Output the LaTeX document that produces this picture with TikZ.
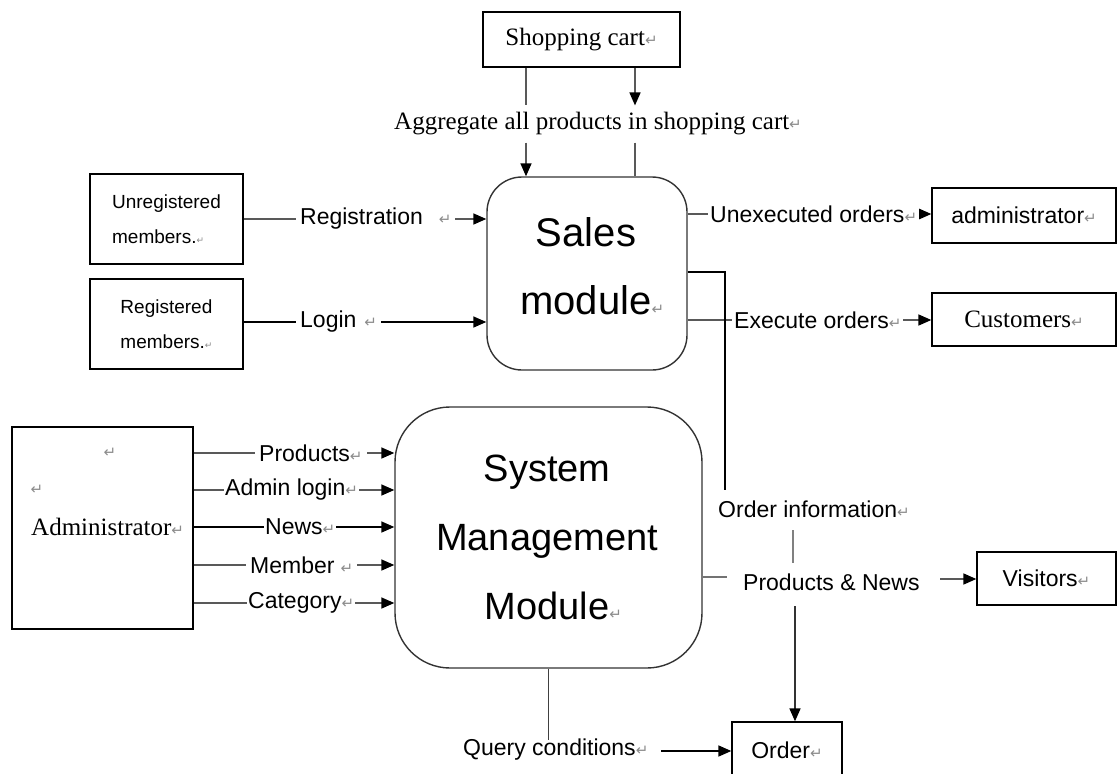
\documentclass[tikz,border=0pt]{standalone}
\usepackage{fontspec}
\setmainfont{Liberation Serif}
\setsansfont{Liberation Sans}
\newfontfamily\symfont{DejaVu Sans}
\usetikzlibrary{arrows.meta}
\newcommand\pmark{{\symfont\fontsize{15}{15}\selectfont\color{black!45}↵}}
\newcommand\pmarks{{\symfont\fontsize{9}{9}\selectfont\color{black!45}↵}}
\newcommand\fserif{\rmfamily\fontsize{25}{30}\selectfont}
\newcommand\fsans{\sffamily\fontsize{23}{27}\selectfont}
\newcommand\fsmall{\sffamily\fontsize{19}{35}\selectfont}
\begin{document}
\begin{tikzpicture}[x=1pt,y=-1pt,
  box/.style={draw=black, line width=1.3pt, inner sep=0pt},
  rbox/.style={draw=black!80, line width=1.4pt},
  conn/.style={draw=black!65, line width=1.6pt},
  arr/.style={conn, -{Triangle[length=13pt,width=11pt,color=black]}},
  lab/.style={font=\fsans, fill=white, inner ysep=1pt, inner xsep=4pt, anchor=west},
  txt/.style={inner sep=0pt},
]
\useasboundingbox[fill=white] (0,0) rectangle (1117,774);

% ---- boxes ----
\node[box, minimum width=197pt, minimum height=55pt, font=\fserif] (cart) at (581.5,39.5) {Shopping cart\pmark};
\node[rbox, rounded corners=35pt, minimum width=200pt, minimum height=193pt] (sales) at (587,273.5) {};
\node[font=\sffamily\fontsize{40}{68}\selectfont, align=center] (salestxt) at (586,266) {Sales\\module\rlap{\pmark}};
\node[rbox, rounded corners=55pt, minimum width=307pt, minimum height=261pt] (sys) at (548.5,537.5) {};
\node[font=\sffamily\fontsize{38}{69}\selectfont, align=center] (systxt) at (547,537) {System\\Management\\Module\rlap{\pmark}};

\node[box, minimum width=153pt, minimum height=90pt, font=\fsmall, align=left] (unreg) at (166.5,219) {Unregistered\\members.\pmarks};
\node[box, minimum width=153pt, minimum height=90pt, font=\fsmall, align=left] (reg) at (166.5,324) {Registered\\members.\pmarks};
\node[box, minimum width=181pt, minimum height=202pt] (admin) at (102.5,528) {};
\node[txt] (am1) at (110,453) {\pmark};
\node[txt] (am2) at (37,490) {\pmark};
\node[txt, font=\fserif, anchor=west] (admtxt) at (31,527) {Administrator\pmark};

\node[box, minimum width=184pt, minimum height=55pt, font=\fsans] (adm2) at (1024,215.5) {administrator\pmark};
\node[box, minimum width=184pt, minimum height=53pt, font=\fserif] (cust) at (1024,319.5) {Customers\pmark};
\node[box, minimum width=139pt, minimum height=53pt, font=\fsans] (vis) at (1046.5,578.5) {Visitors\pmark};
\begin{scope}
\clip (0,0) rectangle (1117,774);
\node[box, minimum width=110pt, minimum height=56pt, font=\fsans] (order) at (787,750) {Order\pmark};
\end{scope}

% ---- shopping cart connectors ----
\node[font=\fserif, inner xsep=0pt, inner ysep=7pt] (agg) at (598,124) {Aggregate all products in shopping cart\pmark};
\coordinate (cl) at ([xshift=-55.5pt]cart.south);
\coordinate (cr) at ([xshift=53.5pt]cart.south);
\draw[conn] (cl) -- (cl |- agg.north);
\draw[arr] (cl |- agg.south) -- (cl |- sales.north);
\draw[arr] (cr) -- (cr |- agg.north);
\draw[conn] (cr |- agg.south) -- (cr |- sales.north);

% ---- members ----
\coordinate (yR) at (296,219);
\draw[arr] (unreg.east |- yR) -- (sales.west |- yR);
\node[lab] (lreg) at (yR) {Registration\hspace{16pt}\pmark};
\coordinate (yL) at (296,322);
\draw[arr, draw=black] (reg.east |- yL) -- (sales.west |- yL);
\node[lab] (llog) at (yL) {Login\hspace{8pt}\pmark};

% ---- sales outputs ----
\coordinate (yU) at (708,214);
\draw[arr] (sales.east |- yU) -- (adm2.west |- yU);
\node[lab, inner xsep=2pt] (lune) at (yU) {Unexecuted orders\pmark};
\coordinate (yE) at (732,320);
\draw[arr] (sales.east |- yE) -- (cust.west |- yE);
\node[lab, inner xsep=2pt] (lexe) at (yE) {Execute orders\pmark};
\coordinate (bk) at (725,272);
\coordinate (bk2) at (725,490);
\draw[conn, draw=black] (sales.east |- bk) -- (bk) -- (bk2);

% ---- order information / products & news ----
\node[txt, font=\fsans, anchor=west] (oi) at (718,509) {Order information\pmark};
\coordinate (pn1) at (793,530);
\coordinate (pn2) at (793,563);
\draw[conn, draw=black!50] (pn1) -- (pn2);
\node[txt, font=\fsans, anchor=west] (pn) at (743,582) {Products \& News};
\coordinate (sn) at (727,577);
\draw[conn, draw=black!55] (sn -| sys.east) -- (sn);
\coordinate (vs) at (940,579);
\draw[arr] (vs) -- (vs -| vis.west);
\coordinate (ov) at (795,606);
\draw[arr, draw=black!80] (ov) -- (ov |- order.north);

% ---- query conditions ----
\node[txt, font=\fsans, anchor=west] (qc) at (463,750) {Query conditions\pmark};
\coordinate (qe) at (549,740);
\draw[conn, draw=black!75] (sys.south) -- (sys.south |- qe);
\coordinate (qa) at (661,751);
\draw[arr, draw=black] (qa) -- (qa -| order.west);

% ---- administrator inputs ----
\coordinate (aP) at (255,453);
\draw[arr] (aP -| admin.east) -- (aP -| sys.west);
\node[lab] (lP) at (aP) {Products\pmark};
\coordinate (aA) at (224,490);
\draw[arr] (aA -| admin.east) -- (aA -| sys.west);
\node[lab, inner xsep=1pt] (lA) at (aA) {Admin login\pmark};
\coordinate (aN) at (264,527);
\draw[arr, draw=black] (aN -| admin.east) -- (aN -| sys.west);
\node[lab, inner xsep=1pt] (lN) at (aN) {News\pmark\hspace{8pt}};
\coordinate (aM) at (246,565);
\draw[arr] (aM -| admin.east) -- (aM -| sys.west);
\node[lab] (lM) at (aM) {Member\hspace{6pt}\pmark};
\coordinate (aC) at (247,603);
\draw[arr] (aC -| admin.east) -- (aC -| sys.west);
\node[lab, inner xsep=1pt] (lC) at (aC) {Category\pmark\hspace{10pt}};
\end{tikzpicture}
\end{document}
